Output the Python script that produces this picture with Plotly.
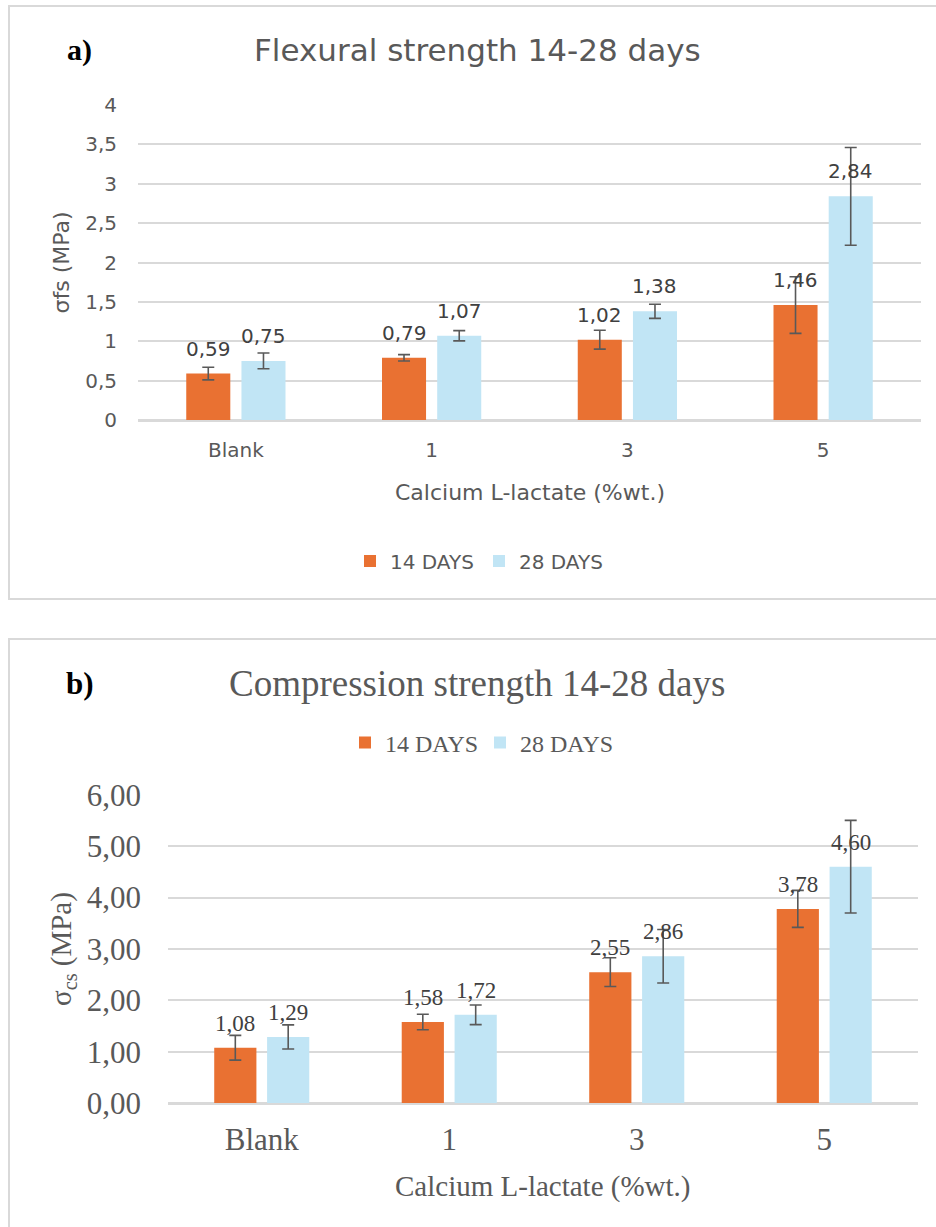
import plotly.graph_objects as go

# ---- data -------------------------------------------------------------
categories = ["Blank", "1", "3", "5"]
series_names = ["14 DAYS", "28 DAYS"]

flex_14 = [0.59, 0.79, 1.02, 1.46]
flex_28 = [0.75, 1.07, 1.38, 2.84]
flex_14_err = [0.08, 0.04, 0.12, 0.36]
flex_28_err = [0.10, 0.065, 0.09, 0.62]

comp_14 = [1.08, 1.58, 2.55, 3.78]
comp_28 = [1.29, 1.72, 2.86, 4.60]
comp_14_err = [0.24, 0.15, 0.28, 0.36]
comp_28_err = [0.235, 0.19, 0.52, 0.90]

flex_ticks = [0, 0.5, 1, 1.5, 2, 2.5, 3, 3.5, 4]
comp_ticks = [0, 1, 2, 3, 4, 5, 6]

# ---- style ------------------------------------------------------------
W, H = 936, 1227
ORANGE = "#E97132"
LIGHT_BLUE = "#C1E5F5"
TEXT = "#595959"
LABEL = "#404040"
GRID = "#D9D9D9"
ERR = "#595959"
SANS = "DejaVu Sans"
SERIF = "Liberation Serif"

BAR_W = 0.225          # bar width in category units
BAR_GAP = 0.057        # gap between the two bars of a group
OFFSETS = [-(BAR_W + BAR_GAP / 2), BAR_GAP / 2]
CENTERS = [o + BAR_W / 2 for o in OFFSETS]


def px(x):
    return x / W


def py(y):
    return 1 - y / H


fig = go.Figure()

panels = [
    dict(xa="x", ya="y", vals=[flex_14, flex_28], errs=[flex_14_err, flex_28_err],
         font=SANS, label_size=20, label_shift=11, legend="legend"),
    dict(xa="x2", ya="y2", vals=[comp_14, comp_28], errs=[comp_14_err, comp_28_err],
         font=SERIF, label_size=23, label_shift=10, legend="legend2"),
]

annotations = []
for p in panels:
    for k, (name, color) in enumerate(zip(series_names, [ORANGE, LIGHT_BLUE])):
        fig.add_trace(go.Bar(
            x=categories, y=p["vals"][k], name=name,
            xaxis=p["xa"], yaxis=p["ya"], legend=p["legend"],
            marker=dict(color=color, line=dict(width=0)),
            width=BAR_W, offset=OFFSETS[k],
            error_y=dict(type="data", array=p["errs"][k], visible=True,
                         color=ERR, thickness=1.6, width=6),
        ))
        # value labels above each bar
        for i, v in enumerate(p["vals"][k]):
            annotations.append(dict(
                x=i + CENTERS[k], y=v, xref=p["xa"], yref=p["ya"],
                text=f"{v:.2f}".replace(".", ","), showarrow=False,
                xanchor="center", yanchor="bottom", yshift=p["label_shift"],
                font=dict(family=p["font"], size=p["label_size"], color=LABEL),
            ))


def label(text, x, y, xref="paper", yref="paper", angle=0, **font):
    return dict(text=text, x=x, y=y, xref=xref, yref=yref, textangle=angle,
                xanchor="center", yanchor="middle", showarrow=False, font=font)


# ---- titles -----------------------------------------------------------
annotations += [
    label("<b>a)</b>", px(79), py(50), family=SERIF, size=30, color="black"),
    label("Flexural strength 14-28 days", px(478), py(50),
          family=SANS, size=31, color=TEXT),
    label("Calcium L-lactate (%wt.)", 0.5, py(492), xref="x domain",
          family=SANS, size=22, color=TEXT),
    label("σfs (MPa)", px(61), 0.5, yref="y domain", angle=-90,
          family=SANS, size=22, color=TEXT),
    label("<b>b)</b>", px(80), py(683), family=SERIF, size=31, color="black"),
    label("Compression strength 14-28 days", px(477), py(683),
          family=SERIF, size=37, color=TEXT),
    label("Calcium L-lactate (%wt.)", 0.5, py(1186), xref="x2 domain",
          family=SERIF, size=29, color=TEXT),
    label("σ<sub>cs</sub> (MPa)", px(63), 0.5, yref="y2 domain", angle=-90,
          family=SERIF, size=29, color=TEXT),
]

# ---- panel frames -----------------------------------------------------
frame = dict(type="rect", xref="paper", yref="paper", layer="below",
             line=dict(color=GRID, width=2), fillcolor="rgba(0,0,0,0)")
shapes = [
    dict(frame, x0=px(9), x1=1.05, y0=py(599), y1=py(6)),
    dict(frame, x0=px(9), x1=1.05, y0=-0.05, y1=py(639)),
]

common_y = dict(showgrid=True, gridcolor=GRID, gridwidth=1.5, zeroline=True,
                zerolinecolor=GRID, zerolinewidth=1.5, showline=False, ticks="")
common_x = dict(type="category", showgrid=False, zeroline=False, showline=True,
                linecolor=GRID, linewidth=1.5, ticks="", categoryorder="array",
                categoryarray=categories)

fig.update_layout(
    width=W, height=H, margin=dict(l=0, r=0, t=0, b=0, autoexpand=False),
    paper_bgcolor="white", plot_bgcolor="white",
    separators=",.", barmode="group", showlegend=True,
    xaxis=dict(common_x, domain=[px(138), px(921)], anchor="y",
               tickfont=dict(family=SANS, size=20, color=TEXT), ticklabelstandoff=11),
    yaxis=dict(common_y, domain=[py(420), py(105)], anchor="x", range=[0, 4],
               tickvals=flex_ticks, tickfont=dict(family=SANS, size=20, color=TEXT),
               ticklabelstandoff=20),
    xaxis2=dict(common_x, domain=[px(168), px(918)], anchor="y2",
                tickfont=dict(family=SERIF, size=31, color=TEXT), ticklabelstandoff=8),
    yaxis2=dict(common_y, domain=[py(1103.3), py(794.7)], anchor="x2", range=[0, 6],
                tickvals=comp_ticks, tickformat=".2f",
                tickfont=dict(family=SERIF, size=31, color=TEXT), ticklabelstandoff=26),
    legend=dict(orientation="h", x=px(350), y=py(561), xanchor="left", yanchor="middle",
                entrywidth=84, font=dict(family=SANS, size=20, color=TEXT),
                bgcolor="rgba(0,0,0,0)"),
    legend2=dict(orientation="h", x=px(345), y=py(743), xanchor="left", yanchor="middle",
                 entrywidth=90, font=dict(family=SERIF, size=24, color=TEXT),
                 bgcolor="rgba(0,0,0,0)"),
    annotations=annotations,
    shapes=shapes,
)

fig.write_html("out.html")
